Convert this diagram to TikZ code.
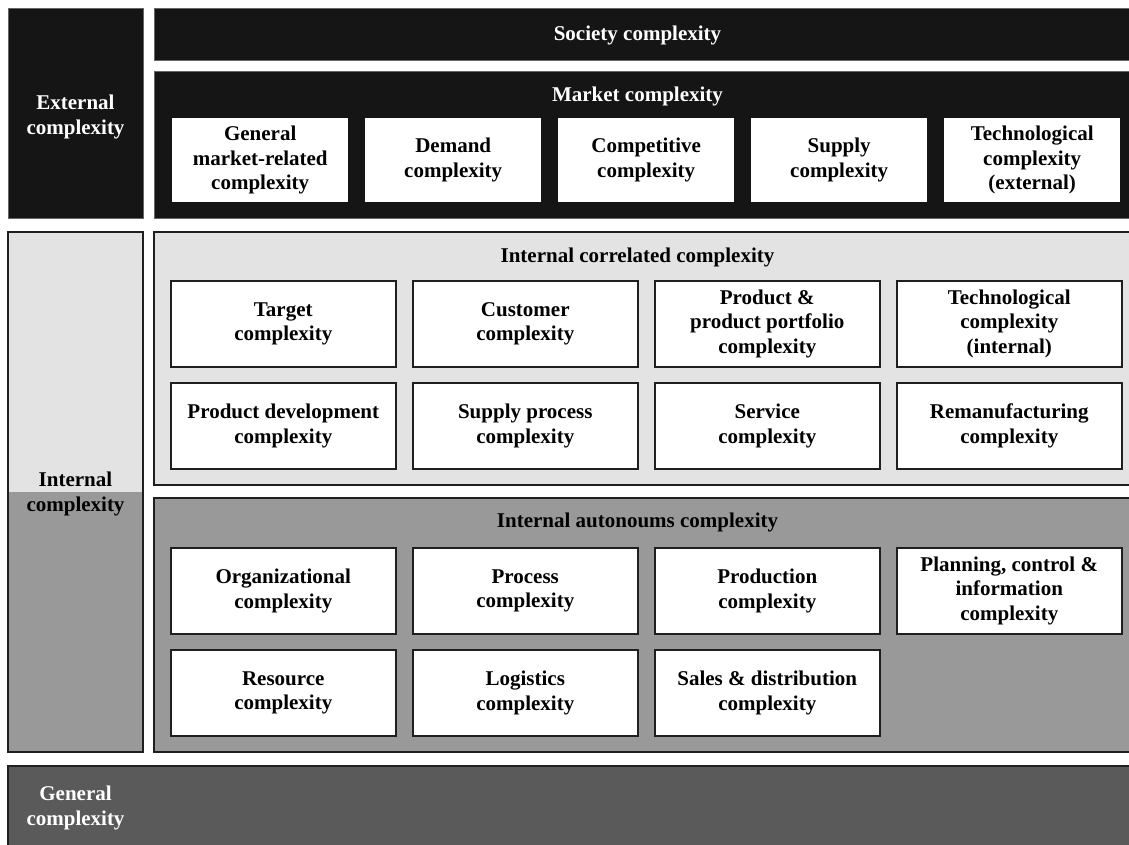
\documentclass[tikz,border=0pt]{standalone}
\usepackage{fontspec}
\setmainfont{Liberation Serif}
\begin{document}
\begin{tikzpicture}[x=1pt,y=-1pt,
  txt/.style={font=\fontsize{21}{24.5}\selectfont\bfseries, align=center, inner sep=0pt},
  wtxt/.style={txt, text=white},
  mbox/.style={txt, fill=white, draw=none, minimum width=176pt, minimum height=84pt, anchor=north west},
  ibox/.style={txt, fill=white, draw=black!88, line width=1.5pt, minimum width=225pt, minimum height=86pt, anchor=north west},
  frame/.style={draw=black!88, line width=1.5pt}]
\useasboundingbox (0,0) rectangle (1129,845);
\clip (0,0) rectangle (1129,845);
\definecolor{blk}{HTML}{151515}
\definecolor{lgr}{HTML}{E3E3E3}
\definecolor{mgr}{HTML}{999999}
\definecolor{dgr}{HTML}{5A5A5A}
% External
\fill[blk, draw=black!60, line width=0.8pt] (8,8) rectangle (143,218);
\node[wtxt] (ext) at (75.5,117) {External\\complexity};
\fill[blk, draw=black!60, line width=0.8pt] (154,8) rectangle (1140,60);
\node[wtxt] (soc) at (637.5,35) {Society complexity};
\fill[blk, draw=black!60, line width=0.8pt] (154,71) rectangle (1140,218);
\node[wtxt] (mkt) at (637.5,96) {Market complexity};
\node[mbox] (m1) at (172,118) {General\\market-related\\complexity};
\node[mbox] (m2) at (365,118) {Demand\\complexity};
\node[mbox] (m3) at (558,118) {Competitive\\complexity};
\node[mbox] (m4) at (751,118) {Supply\\complexity};
\node[mbox] (m5) at (944,118) {Technological\\complexity\\(external)};
% Internal left
\fill[lgr] (8,232) rectangle (143,492);
\fill[mgr] (8,492) rectangle (143,752);
\draw[frame] (8,232) rectangle (143,752);
\node[txt] (int) at (75.5,494) {Internal\\complexity};
% Internal correlated
\draw[frame, fill=lgr] (154,232) rectangle (1140,485);
\node[txt] (icor) at (637.5,257) {Internal correlated complexity};
\node[ibox] (c1) at (170,280) {Target\\complexity};
\node[ibox] (c2) at (412,280) {Customer\\complexity};
\node[ibox] (c3) at (654,280) {Product \&\\product portfolio\\complexity};
\node[ibox] (c4) at (896,280) {Technological\\complexity\\(internal)};
\node[ibox] (c5) at (170,382) {Product development\\complexity};
\node[ibox] (c6) at (412,382) {Supply process\\complexity};
\node[ibox] (c7) at (654,382) {Service\\complexity};
\node[ibox] (c8) at (896,382) {Remanufacturing\\complexity};
% Internal autonomous
\draw[frame, fill=mgr] (154,498) rectangle (1140,752);
\node[txt] (iaut) at (637.5,522) {Internal autonoums complexity};
\node[ibox] (a1) at (170,547) {Organizational\\complexity};
\node[ibox] (a2) at (412,547) {Process\\complexity};
\node[ibox] (a3) at (654,547) {Production\\complexity};
\node[ibox] (a4) at (896,547) {Planning, control \&\\information\\complexity};
\node[ibox] (a5) at (170,649) {Resource\\complexity};
\node[ibox] (a6) at (412,649) {Logistics\\complexity};
\node[ibox] (a7) at (654,649) {Sales \& distribution\\complexity};
% General
\draw[frame, fill=dgr] (8,766) rectangle (1140,860);
\node[wtxt] (gen) at (75.5,808) {General\\complexity};
\end{tikzpicture}
\end{document}
